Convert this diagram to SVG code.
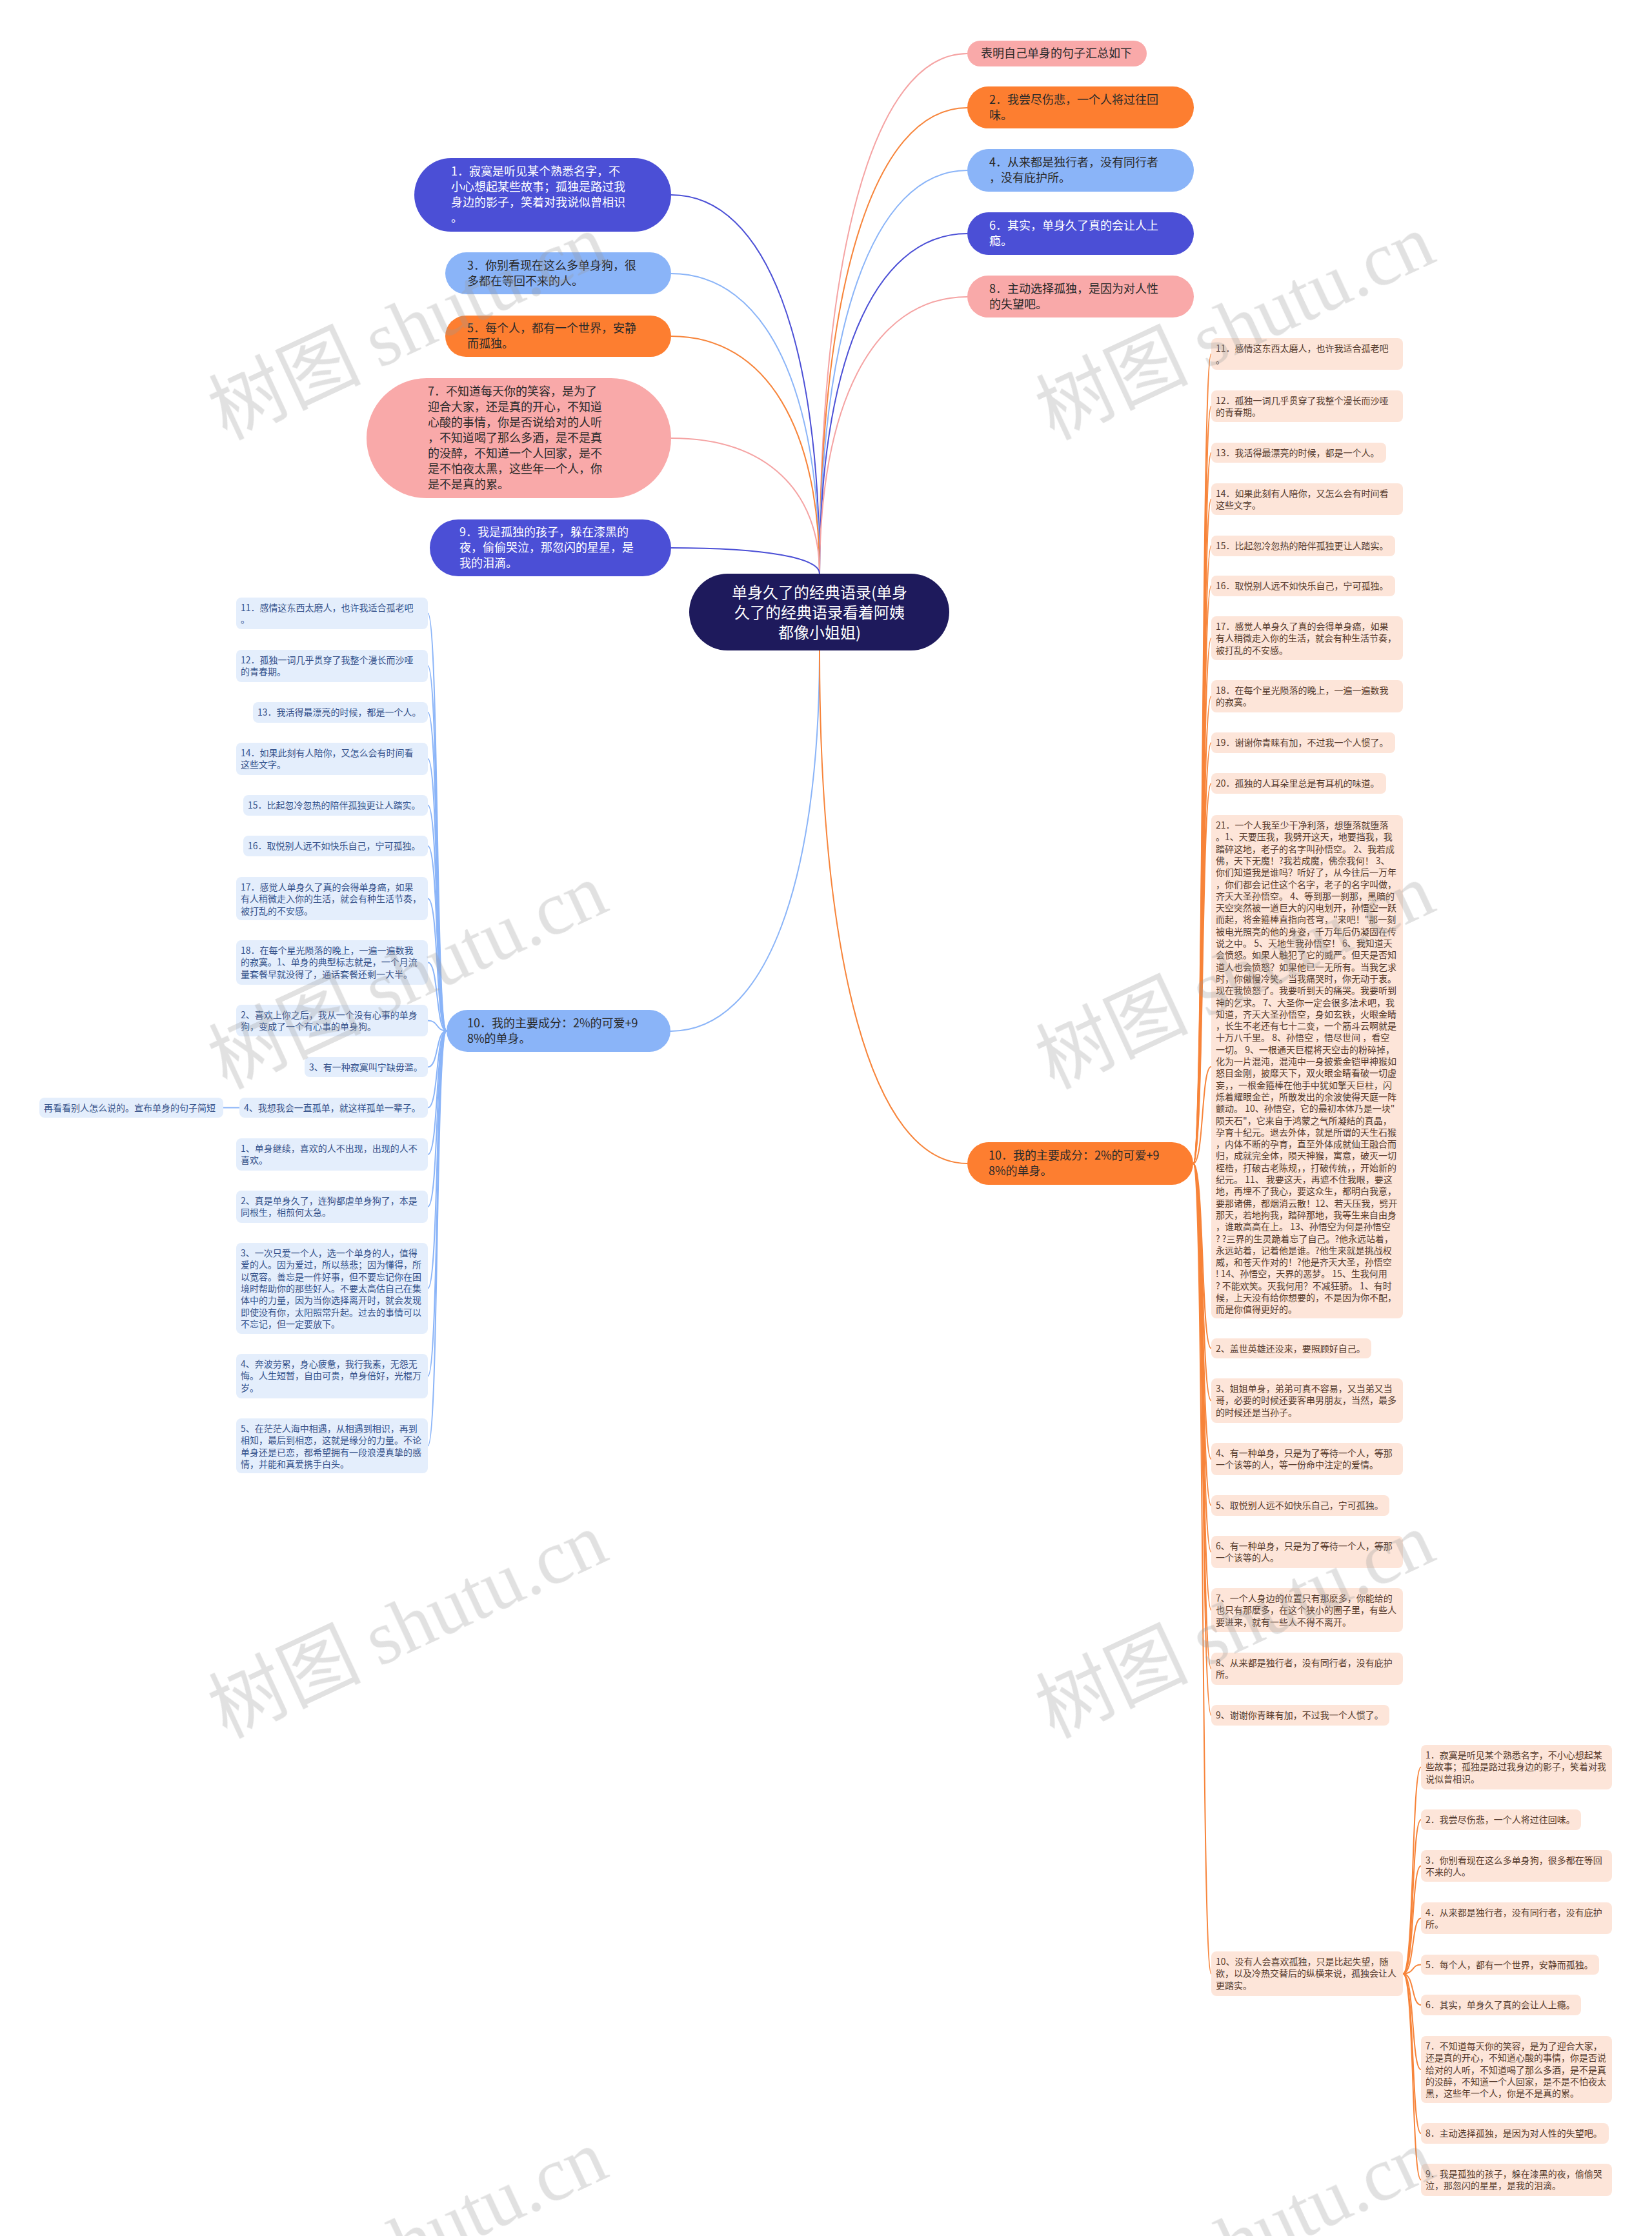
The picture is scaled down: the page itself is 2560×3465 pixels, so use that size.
<svg xmlns="http://www.w3.org/2000/svg" width="2560" height="3465" viewBox="0 0 2560 3465">
<defs>
<style>
text{font-family:"Noto Sans CJK SC","Noto Sans",sans-serif}
.s{font-size:14px}
.sb{fill:#34518a}
.sp{fill:#553a2c}
.rb{fill:#e4eefc}
.rp{fill:#fde5d9}
.m{font-size:18px;fill:#2a2a2a}
.mw{font-size:18px;fill:#ffffff}
.c{font-size:24px;fill:#ffffff;text-anchor:middle}
.e{fill:none;stroke-width:2}
.eo{stroke:#f7843a}
.eb{stroke:#8ab4f8}
.er{stroke:#4b4fd6}
.ep{stroke:#f5a3a3}
.wm{fill:#9a9a9a;opacity:0.3;font-size:118px}
.wms{font-family:"Liberation Serif",serif}
</style>
</defs>
<rect width="2560" height="3465" fill="#ffffff"/>

<g id="connectors">
<path class="e ep" d="M1270,889 C1270,405 1350,83 1499,83"/>
<path class="e eo" d="M1270,889 C1270,456 1350,167 1499,167"/>
<path class="e eb" d="M1270,889 C1270,514 1350,264 1499,264"/>
<path class="e er" d="M1270,889 C1270,573 1350,362 1499,362"/>
<path class="e ep" d="M1270,889 C1270,631 1350,460 1499,460"/>
<path class="e er" d="M1270,889 C1270,537 1190,302 1040,302"/>
<path class="e eb" d="M1270,889 C1270,610 1190,424 1040,424"/>
<path class="e eo" d="M1270,889 C1270,668 1190,521 1040,521"/>
<path class="e ep" d="M1270,889 C1270,763 1190,679 1040,679"/>
<path class="e er" d="M1270,889 C1270,865 1190,849 1040,849"/>
<path class="e eb" d="M1270,1008 C1270,1362 1189,1598 1039,1598"/>
<path class="e eo" d="M1270,1008 C1270,1485 1350,1803 1499,1803"/>
<path class="e eb" d="M692,1597.5 C675,1597.5 680,950.5 663,950.5"/>
<path class="e eb" d="M692,1597.5 C675,1597.5 680,1032 663,1032"/>
<path class="e eb" d="M692,1597.5 C675,1597.5 680,1104 663,1104"/>
<path class="e eb" d="M692,1597.5 C675,1597.5 680,1176 663,1176"/>
<path class="e eb" d="M692,1597.5 C675,1597.5 680,1248 663,1248"/>
<path class="e eb" d="M692,1597.5 C675,1597.5 680,1311 663,1311"/>
<path class="e eb" d="M692,1597.5 C675,1597.5 680,1392.5 663,1392.5"/>
<path class="e eb" d="M692,1597.5 C675,1597.5 680,1491.5 663,1491.5"/>
<path class="e eb" d="M692,1597.5 C675,1597.5 680,1581.5 663,1581.5"/>
<path class="e eb" d="M692,1597.5 C675,1597.5 680,1653.5 663,1653.5"/>
<path class="e eb" d="M692,1597.5 C675,1597.5 680,1716.5 663,1716.5"/>
<path class="e eb" d="M692,1597.5 C675,1597.5 680,1789 663,1789"/>
<path class="e eb" d="M692,1597.5 C675,1597.5 680,1870 663,1870"/>
<path class="e eb" d="M692,1597.5 C675,1597.5 680,1996.5 663,1996.5"/>
<path class="e eb" d="M692,1597.5 C675,1597.5 680,2132.5 663,2132.5"/>
<path class="e eb" d="M692,1597.5 C675,1597.5 680,2240.5 663,2240.5"/>
<path class="e eb" d="M371,1716.5 L346,1716.5"/>
<path class="e eo" d="M1849,1803 C1866,1803 1861,548.5 1877,548.5"/>
<path class="e eo" d="M1849,1803 C1866,1803 1861,629.5 1877,629.5"/>
<path class="e eo" d="M1849,1803 C1866,1803 1861,701.5 1877,701.5"/>
<path class="e eo" d="M1849,1803 C1866,1803 1861,773.5 1877,773.5"/>
<path class="e eo" d="M1849,1803 C1866,1803 1861,846 1877,846"/>
<path class="e eo" d="M1849,1803 C1866,1803 1861,908 1877,908"/>
<path class="e eo" d="M1849,1803 C1866,1803 1861,989 1877,989"/>
<path class="e eo" d="M1849,1803 C1866,1803 1861,1079 1877,1079"/>
<path class="e eo" d="M1849,1803 C1866,1803 1861,1151 1877,1151"/>
<path class="e eo" d="M1849,1803 C1866,1803 1861,1214 1877,1214"/>
<path class="e eo" d="M1849,1803 C1866,1803 1861,1653 1877,1653"/>
<path class="e eo" d="M1849,1803 C1866,1803 1861,2089.5 1877,2089.5"/>
<path class="e eo" d="M1849,1803 C1866,1803 1861,2170.5 1877,2170.5"/>
<path class="e eo" d="M1849,1803 C1866,1803 1861,2261 1877,2261"/>
<path class="e eo" d="M1849,1803 C1866,1803 1861,2333 1877,2333"/>
<path class="e eo" d="M1849,1803 C1866,1803 1861,2405 1877,2405"/>
<path class="e eo" d="M1849,1803 C1866,1803 1861,2495 1877,2495"/>
<path class="e eo" d="M1849,1803 C1866,1803 1861,2586 1877,2586"/>
<path class="e eo" d="M1849,1803 C1866,1803 1861,2658 1877,2658"/>
<path class="e eo" d="M1849,1803 C1866,1803 1861,3058.5 1877,3058.5"/>
<path class="e eo" d="M2174,3058.5 C2192,3058.5 2187,2738.5 2202,2738.5"/>
<path class="e eo" d="M2174,3058.5 C2192,3058.5 2187,2820 2202,2820"/>
<path class="e eo" d="M2174,3058.5 C2192,3058.5 2187,2891.5 2202,2891.5"/>
<path class="e eo" d="M2174,3058.5 C2192,3058.5 2187,2972.5 2202,2972.5"/>
<path class="e eo" d="M2174,3058.5 C2192,3058.5 2187,3044.5 2202,3044.5"/>
<path class="e eo" d="M2174,3058.5 C2192,3058.5 2187,3107 2202,3107"/>
<path class="e eo" d="M2174,3058.5 C2192,3058.5 2187,3207 2202,3207"/>
<path class="e eo" d="M2174,3058.5 C2192,3058.5 2187,3306 2202,3306"/>
<path class="e eo" d="M2174,3058.5 C2192,3058.5 2187,3378 2202,3378"/>
</g>

<g id="n-center">
<rect x="1068" y="889" width="403" height="119" rx="59.5" fill="#1e1a5c"/>
<text class="c"><tspan x="1270" y="927">单身久了的经典语录(单身</tspan><tspan x="1270" y="958">久了的经典语录看着阿姨</tspan><tspan x="1270" y="989">都像小姐姐)</tspan></text>
</g>

<g id="n-tr0"><rect x="1499" y="63" width="278" height="40" rx="20" fill="#f9a9a9"/><text class="m" x="1520" y="89">表明自己单身的句子汇总如下</text></g>
<g id="n-tr2"><rect x="1499" y="134" width="351" height="65" rx="32.5" fill="#fd7e30"/><text class="m"><tspan x="1533" y="160.5">2．我尝尽伤悲，一个人将过往回</tspan><tspan x="1533" y="184.5">味。</tspan></text></g>
<g id="n-tr4"><rect x="1499" y="231" width="351" height="66" rx="33" fill="#8ab4f8"/><text class="m"><tspan x="1533" y="258">4．从来都是独行者，没有同行者</tspan><tspan x="1533" y="282">，没有庇护所。</tspan></text></g>
<g id="n-tr6"><rect x="1499" y="329" width="351" height="66" rx="33" fill="#4b4fd6"/><text class="mw"><tspan x="1533" y="356">6．其实，单身久了真的会让人上</tspan><tspan x="1533" y="380">瘾。</tspan></text></g>
<g id="n-tr8"><rect x="1499" y="427" width="351" height="65" rx="32.5" fill="#f9a9a9"/><text class="m"><tspan x="1533" y="453.5">8．主动选择孤独，是因为对人性</tspan><tspan x="1533" y="477.5">的失望吧。</tspan></text></g>

<g id="n-tl1"><rect x="642" y="245" width="398" height="114" rx="57" fill="#4b4fd6"/><text class="mw"><tspan x="699" y="272">1．寂寞是听见某个熟悉名字，不</tspan><tspan x="699" y="296">小心想起某些故事；孤独是路过我</tspan><tspan x="699" y="320">身边的影子，笑着对我说似曾相识</tspan><tspan x="699" y="344">。</tspan></text></g>
<g id="n-tl3"><rect x="690" y="391" width="350" height="65" rx="32.5" fill="#8ab4f8"/><text class="m"><tspan x="724" y="418">3．你别看现在这么多单身狗，很</tspan><tspan x="724" y="442">多都在等回不来的人。</tspan></text></g>
<g id="n-tl5"><rect x="690" y="489" width="350" height="64" rx="32" fill="#fd7e30"/><text class="m"><tspan x="724" y="515">5．每个人，都有一个世界，安静</tspan><tspan x="724" y="539">而孤独。</tspan></text></g>
<g id="n-tl7"><rect x="568" y="586" width="472" height="186" rx="93" fill="#f9a9a9"/><text class="m"><tspan x="663" y="613">7．不知道每天你的笑容，是为了</tspan><tspan x="663" y="637">迎合大家，还是真的开心，不知道</tspan><tspan x="663" y="661">心酸的事情，你是否说给对的人听</tspan><tspan x="663" y="685">，不知道喝了那么多酒，是不是真</tspan><tspan x="663" y="709">的没醉，不知道一个人回家，是不</tspan><tspan x="663" y="733">是不怕夜太黑，这些年一个人，你</tspan><tspan x="663" y="757">是不是真的累。</tspan></text></g>
<g id="n-tl9"><rect x="666" y="805" width="374" height="88" rx="44" fill="#4b4fd6"/><text class="mw"><tspan x="712" y="831">9．我是孤独的孩子，躲在漆黑的</tspan><tspan x="712" y="855">夜，偷偷哭泣，那忽闪的星星，是</tspan><tspan x="712" y="879">我的泪滴。</tspan></text></g>

<g id="n-l10"><rect x="692" y="1565" width="347" height="65" rx="32.5" fill="#8ab4f8"/><text class="m"><tspan x="724" y="1591.5">10．我的主要成分：2%的可爱+9</tspan><tspan x="724" y="1615.5">8%的单身。</tspan></text></g>
<g id="n-r10"><rect x="1499" y="1770" width="350" height="66" rx="33" fill="#fd7e30"/><text class="m"><tspan x="1532" y="1797">10．我的主要成分：2%的可爱+9</tspan><tspan x="1532" y="1821">8%的单身。</tspan></text></g>

<g id="n-l-11"><rect class="rb" x="366" y="926" width="297" height="49" rx="8"/><text class="s sb"><tspan x="373" y="947">11．感情这东西太磨人，也许我适合孤老吧</tspan><tspan x="373" y="965.3">。</tspan></text></g>
<g id="n-l-12"><rect class="rb" x="366" y="1007" width="297" height="50" rx="8"/><text class="s sb"><tspan x="373" y="1028">12．孤独一词几乎贯穿了我整个漫长而沙哑</tspan><tspan x="373" y="1046.3">的青春期。</tspan></text></g>
<g id="n-l-13"><rect class="rb" x="392" y="1088" width="271" height="32" rx="8"/><text class="s sb" x="399" y="1109">13．我活得最漂亮的时候，都是一个人。</text></g>
<g id="n-l-14"><rect class="rb" x="366" y="1151" width="297" height="50" rx="8"/><text class="s sb"><tspan x="373" y="1172">14．如果此刻有人陪你，又怎么会有时间看</tspan><tspan x="373" y="1190.3">这些文字。</tspan></text></g>
<g id="n-l-15"><rect class="rb" x="377" y="1232" width="286" height="32" rx="8"/><text class="s sb" x="384" y="1253">15．比起忽冷忽热的陪伴孤独更让人踏实。</text></g>
<g id="n-l-16"><rect class="rb" x="377" y="1295" width="286" height="32" rx="8"/><text class="s sb" x="384" y="1316">16．取悦别人远不如快乐自己，宁可孤独。</text></g>
<g id="n-l-17"><rect class="rb" x="366" y="1359" width="297" height="67" rx="8"/><text class="s sb"><tspan x="373" y="1380">17．感觉人单身久了真的会得单身癌，如果</tspan><tspan x="373" y="1398.3">有人稍微走入你的生活，就会有种生活节奏，</tspan><tspan x="373" y="1416.6">被打乱的不安感。</tspan></text></g>
<g id="n-l-18"><rect class="rb" x="366" y="1457" width="297" height="69" rx="8"/><text class="s sb"><tspan x="373" y="1478">18．在每个星光陨落的晚上，一遍一遍数我</tspan><tspan x="373" y="1496.3">的寂寞。1、单身的典型标志就是，一个月流</tspan><tspan x="373" y="1514.6">量套餐早就没得了，通话套餐还剩一大半。</tspan></text></g>
<g id="n-l-a2"><rect class="rb" x="366" y="1557" width="297" height="49" rx="8"/><text class="s sb"><tspan x="373" y="1578">2、喜欢上你之后，我从一个没有心事的单身</tspan><tspan x="373" y="1596.3">狗，变成了一个有心事的单身狗。</tspan></text></g>
<g id="n-l-a3"><rect class="rb" x="472" y="1638" width="191" height="31" rx="8"/><text class="s sb" x="479" y="1658.5">3、有一种寂寞叫宁缺毋滥。</text></g>
<g id="n-l-a4"><rect class="rb" x="371" y="1701" width="292" height="31" rx="8"/><text class="s sb" x="378" y="1721.5">4、我想我会一直孤单，就这样孤单一辈子。</text></g>
<g id="n-l-a4sub"><rect class="rb" x="61" y="1701" width="285" height="31" rx="8"/><text class="s sb" x="68" y="1721.5">再看看别人怎么说的。宣布单身的句子简短</text></g>
<g id="n-l-b1"><rect class="rb" x="366" y="1764" width="297" height="50" rx="8"/><text class="s sb"><tspan x="373" y="1785">1、单身继续，喜欢的人不出现，出现的人不</tspan><tspan x="373" y="1803.3">喜欢。</tspan></text></g>
<g id="n-l-b2"><rect class="rb" x="366" y="1845" width="297" height="50" rx="8"/><text class="s sb"><tspan x="373" y="1866">2、真是单身久了，连狗都虐单身狗了，本是</tspan><tspan x="373" y="1884.3">同根生，相煎何太急。</tspan></text></g>
<g id="n-l-b3"><rect class="rb" x="366" y="1926" width="297" height="141" rx="8"/><text class="s sb"><tspan x="373" y="1947">3、一次只爱一个人，选一个单身的人，值得</tspan><tspan x="373" y="1965.3">爱的人。因为爱过，所以慈悲；因为懂得，所</tspan><tspan x="373" y="1983.6">以宽容。善忘是一件好事，但不要忘记你在困</tspan><tspan x="373" y="2001.9">境时帮助你的那些好人。不要太高估自己在集</tspan><tspan x="373" y="2020.2">体中的力量，因为当你选择离开时，就会发现</tspan><tspan x="373" y="2038.5">即使没有你，太阳照常升起。过去的事情可以</tspan><tspan x="373" y="2056.8">不忘记，但一定要放下。</tspan></text></g>
<g id="n-l-b4"><rect class="rb" x="366" y="2098" width="297" height="69" rx="8"/><text class="s sb"><tspan x="373" y="2119">4、奔波劳累，身心疲惫，我行我素，无怨无</tspan><tspan x="373" y="2137.3">悔。人生短暂，自由可贵，单身倍好，光棍万</tspan><tspan x="373" y="2155.6">岁。</tspan></text></g>
<g id="n-l-b5"><rect class="rb" x="366" y="2198" width="297" height="85" rx="8"/><text class="s sb"><tspan x="373" y="2219">5、在茫茫人海中相遇，从相遇到相识，再到</tspan><tspan x="373" y="2237.3">相知，最后到相恋，这就是缘分的力量。不论</tspan><tspan x="373" y="2255.6">单身还是已恋，都希望拥有一段浪漫真挚的感</tspan><tspan x="373" y="2273.9">情，并能和真爱携手白头。</tspan></text></g>

<g id="n-r-11"><rect class="rp" x="1877" y="524" width="297" height="49" rx="8"/><text class="s sp"><tspan x="1884" y="545">11．感情这东西太磨人，也许我适合孤老吧</tspan><tspan x="1884" y="563.3">。</tspan></text></g>
<g id="n-r-12"><rect class="rp" x="1877" y="605" width="297" height="49" rx="8"/><text class="s sp"><tspan x="1884" y="626">12．孤独一词几乎贯穿了我整个漫长而沙哑</tspan><tspan x="1884" y="644.3">的青春期。</tspan></text></g>
<g id="n-r-13"><rect class="rp" x="1877" y="686" width="271" height="31" rx="8"/><text class="s sp" x="1884" y="707">13．我活得最漂亮的时候，都是一个人。</text></g>
<g id="n-r-14"><rect class="rp" x="1877" y="749" width="297" height="49" rx="8"/><text class="s sp"><tspan x="1884" y="770">14．如果此刻有人陪你，又怎么会有时间看</tspan><tspan x="1884" y="788.3">这些文字。</tspan></text></g>
<g id="n-r-15"><rect class="rp" x="1877" y="830" width="285" height="32" rx="8"/><text class="s sp" x="1884" y="851">15．比起忽冷忽热的陪伴孤独更让人踏实。</text></g>
<g id="n-r-16"><rect class="rp" x="1877" y="892" width="285" height="32" rx="8"/><text class="s sp" x="1884" y="913">16．取悦别人远不如快乐自己，宁可孤独。</text></g>
<g id="n-r-17"><rect class="rp" x="1877" y="955" width="297" height="68" rx="8"/><text class="s sp"><tspan x="1884" y="976">17．感觉人单身久了真的会得单身癌，如果</tspan><tspan x="1884" y="994.3">有人稍微走入你的生活，就会有种生活节奏，</tspan><tspan x="1884" y="1012.6">被打乱的不安感。</tspan></text></g>
<g id="n-r-18"><rect class="rp" x="1877" y="1054" width="297" height="50" rx="8"/><text class="s sp"><tspan x="1884" y="1075">18．在每个星光陨落的晚上，一遍一遍数我</tspan><tspan x="1884" y="1093.3">的寂寞。</tspan></text></g>
<g id="n-r-19"><rect class="rp" x="1877" y="1135" width="285" height="32" rx="8"/><text class="s sp" x="1884" y="1156">19．谢谢你青睐有加，不过我一个人惯了。</text></g>
<g id="n-r-20"><rect class="rp" x="1877" y="1198" width="271" height="32" rx="8"/><text class="s sp" x="1884" y="1219">20．孤独的人耳朵里总是有耳机的味道。</text></g>
<g id="n-r-21"><rect class="rp" x="1877" y="1263" width="297" height="780" rx="8"/><text class="s sp">
<tspan x="1884" y="1284">21．一个人我至少干净利落，想堕落就堕落</tspan>
<tspan x="1884" y="1302.3">。1、天要压我，我劈开这天，地要挡我，我</tspan>
<tspan x="1884" y="1320.6">踏碎这地，老子的名字叫孙悟空。 2、我若成</tspan>
<tspan x="1884" y="1338.9">佛，天下无魔！?我若成魔，佛奈我何！ 3、</tspan>
<tspan x="1884" y="1357.2">你们知道我是谁吗？听好了，从今往后一万年</tspan>
<tspan x="1884" y="1375.5">，你们都会记住这个名字，老子的名字叫做，</tspan>
<tspan x="1884" y="1393.8">齐天大圣孙悟空。 4、等到那一刹那，黑暗的</tspan>
<tspan x="1884" y="1412.1">天空突然被一道巨大的闪电划开，孙悟空一跃</tspan>
<tspan x="1884" y="1430.4">而起，将金箍棒直指向苍穹，"来吧！"那一刻</tspan>
<tspan x="1884" y="1448.7">被电光照亮的他的身姿，千万年后仍凝固在传</tspan>
<tspan x="1884" y="1467">说之中。 5、天地生我孙悟空！ 6、我知道天</tspan>
<tspan x="1884" y="1485.3">会愤怒。如果人触犯了它的威严。但天是否知</tspan>
<tspan x="1884" y="1503.6">道人也会愤怒？如果他已一无所有。当我乞求</tspan>
<tspan x="1884" y="1521.9">时，你傲慢冷笑。当我痛哭时，你无动于衷。</tspan>
<tspan x="1884" y="1540.2">现在我愤怒了。我要听到天的痛哭。我要听到</tspan>
<tspan x="1884" y="1558.5">神的乞求。 7、大圣你一定会很多法术吧，我</tspan>
<tspan x="1884" y="1576.8">知道，齐天大圣孙悟空，身如玄铁，火眼金睛</tspan>
<tspan x="1884" y="1595.1">，长生不老还有七十二变，一个筋斗云啊就是</tspan>
<tspan x="1884" y="1613.4">十万八千里。 8、孙悟空 ，悟尽世间 ，看空</tspan>
<tspan x="1884" y="1631.7">一切。 9、一根通天巨棍将天空击的粉碎掉，</tspan>
<tspan x="1884" y="1650">化为一片混沌，混沌中一身披紫金铠甲神猴如</tspan>
<tspan x="1884" y="1668.3">怒目金刚，披靡天下，双火眼金睛看破一切虚</tspan>
<tspan x="1884" y="1686.6">妄，，一根金箍棒在他手中犹如擎天巨柱，闪</tspan>
<tspan x="1884" y="1704.9">烁着耀眼金芒，所散发出的余波使得天庭一阵</tspan>
<tspan x="1884" y="1723.2">颤动。 10、孙悟空，它的最初本体乃是一块"</tspan>
<tspan x="1884" y="1741.5">陨天石"，它来自于鸿蒙之气所凝结的真晶，</tspan>
<tspan x="1884" y="1759.8">孕育十纪元。退去外体，就是所谓的天生石猴</tspan>
<tspan x="1884" y="1778.1">，内体不断的孕育，直至外体成就仙王融合而</tspan>
<tspan x="1884" y="1796.4">归，成就完全体，陨天神猴，寓意，破灭一切</tspan>
<tspan x="1884" y="1814.7">桎梏，打破古老陈规，，打破传统，，开始新的</tspan>
<tspan x="1884" y="1833">纪元。 11、 我要这天，再遮不住我眼，要这</tspan>
<tspan x="1884" y="1851.3">地，再埋不了我心，要这众生，都明白我意，</tspan>
<tspan x="1884" y="1869.6">要那诸佛，都烟消云散！12、若天压我，劈开</tspan>
<tspan x="1884" y="1887.9">那天，若地拘我，踏碎那地，我等生来自由身</tspan>
<tspan x="1884" y="1906.2">，谁敢高高在上。 13、孙悟空为何是孙悟空</tspan>
<tspan x="1884" y="1924.5">? ?三界的生灵跪着忘了自己。?他永远站着，</tspan>
<tspan x="1884" y="1942.8">永远站着，记着他是谁。?他生来就是挑战权</tspan>
<tspan x="1884" y="1961.1">威，和苍天作对的！?他是齐天大圣，孙悟空</tspan>
<tspan x="1884" y="1979.4">! 14、孙悟空，天界的恶梦。 15、生我何用</tspan>
<tspan x="1884" y="1997.7">? 不能欢笑。灭我何用？不减狂骄。 1、有时</tspan>
<tspan x="1884" y="2016">候，上天没有给你想要的，不是因为你不配，</tspan>
<tspan x="1884" y="2034.3">而是你值得更好的。</tspan>
</text></g>
<g id="n-r-c2"><rect class="rp" x="1877" y="2074" width="248" height="31" rx="8"/><text class="s sp" x="1884" y="2095">2、盖世英雄还没来，要照顾好自己。</text></g>
<g id="n-r-c3"><rect class="rp" x="1877" y="2136" width="297" height="69" rx="8"/><text class="s sp"><tspan x="1884" y="2157">3、姐姐单身，弟弟可真不容易，又当弟又当</tspan><tspan x="1884" y="2175.3">哥，必要的时候还要客串男朋友，当然，最多</tspan><tspan x="1884" y="2193.6">的时候还是当孙子。</tspan></text></g>
<g id="n-r-c4"><rect class="rp" x="1877" y="2236" width="297" height="50" rx="8"/><text class="s sp"><tspan x="1884" y="2257">4、有一种单身，只是为了等待一个人，等那</tspan><tspan x="1884" y="2275.3">一个该等的人，等一份命中注定的爱情。</tspan></text></g>
<g id="n-r-c5"><rect class="rp" x="1877" y="2317" width="276" height="32" rx="8"/><text class="s sp" x="1884" y="2338">5、取悦别人远不如快乐自己，宁可孤独。</text></g>
<g id="n-r-c6"><rect class="rp" x="1877" y="2380" width="297" height="50" rx="8"/><text class="s sp"><tspan x="1884" y="2401">6、有一种单身，只是为了等待一个人，等那</tspan><tspan x="1884" y="2419.3">一个该等的人。</tspan></text></g>
<g id="n-r-c7"><rect class="rp" x="1877" y="2461" width="297" height="68" rx="8"/><text class="s sp"><tspan x="1884" y="2482">7、一个人身边的位置只有那麽多，你能给的</tspan><tspan x="1884" y="2500.3">也只有那麽多，在这个狭小的圈子里，有些人</tspan><tspan x="1884" y="2518.6">要进来，就有一些人不得不离开。</tspan></text></g>
<g id="n-r-c8"><rect class="rp" x="1877" y="2561" width="297" height="50" rx="8"/><text class="s sp"><tspan x="1884" y="2582">8、从来都是独行者，没有同行者，没有庇护</tspan><tspan x="1884" y="2600.3">所。</tspan></text></g>
<g id="n-r-c9"><rect class="rp" x="1877" y="2642" width="276" height="32" rx="8"/><text class="s sp" x="1884" y="2663">9、谢谢你青睐有加，不过我一个人惯了。</text></g>
<g id="n-r-c10"><rect class="rp" x="1877" y="3024" width="297" height="69" rx="8"/><text class="s sp"><tspan x="1884" y="3045">10、没有人会喜欢孤独，只是比起失望，随</tspan><tspan x="1884" y="3063.3">欲，以及冷热交替后的纵横来说，孤独会让人</tspan><tspan x="1884" y="3081.6">更踏实。</tspan></text></g>

<g id="n-f-1"><rect class="rp" x="2202" y="2704" width="296" height="69" rx="8"/><text class="s sp"><tspan x="2209" y="2725">1．寂寞是听见某个熟悉名字，不小心想起某</tspan><tspan x="2209" y="2743.3">些故事；孤独是路过我身边的影子，笑着对我</tspan><tspan x="2209" y="2761.6">说似曾相识。</tspan></text></g>
<g id="n-f-2"><rect class="rp" x="2202" y="2804" width="248" height="32" rx="8"/><text class="s sp" x="2209" y="2825">2．我尝尽伤悲，一个人将过往回味。</text></g>
<g id="n-f-3"><rect class="rp" x="2202" y="2867" width="296" height="49" rx="8"/><text class="s sp"><tspan x="2209" y="2888">3．你别看现在这么多单身狗，很多都在等回</tspan><tspan x="2209" y="2906.3">不来的人。</tspan></text></g>
<g id="n-f-4"><rect class="rp" x="2202" y="2948" width="296" height="49" rx="8"/><text class="s sp"><tspan x="2209" y="2969">4．从来都是独行者，没有同行者，没有庇护</tspan><tspan x="2209" y="2987.3">所。</tspan></text></g>
<g id="n-f-5"><rect class="rp" x="2202" y="3029" width="276" height="31" rx="8"/><text class="s sp" x="2209" y="3050">5．每个人，都有一个世界，安静而孤独。</text></g>
<g id="n-f-6"><rect class="rp" x="2202" y="3091" width="248" height="32" rx="8"/><text class="s sp" x="2209" y="3112">6．其实，单身久了真的会让人上瘾。</text></g>
<g id="n-f-7"><rect class="rp" x="2202" y="3155" width="296" height="104" rx="8"/><text class="s sp"><tspan x="2209" y="3176">7．不知道每天你的笑容，是为了迎合大家，</tspan><tspan x="2209" y="3194.3">还是真的开心，不知道心酸的事情，你是否说</tspan><tspan x="2209" y="3212.6">给对的人听，不知道喝了那么多酒，是不是真</tspan><tspan x="2209" y="3230.9">的没醉，不知道一个人回家，是不是不怕夜太</tspan><tspan x="2209" y="3249.2">黑，这些年一个人，你是不是真的累。</tspan></text></g>
<g id="n-f-8"><rect class="rp" x="2202" y="3290" width="291" height="32" rx="8"/><text class="s sp" x="2209" y="3311">8．主动选择孤独，是因为对人性的失望吧。</text></g>
<g id="n-f-9"><rect class="rp" x="2202" y="3353" width="296" height="50" rx="8"/><text class="s sp"><tspan x="2209" y="3374">9．我是孤独的孩子，躲在漆黑的夜，偷偷哭</tspan><tspan x="2209" y="3392.3">泣，那忽闪的星星，是我的泪滴。</tspan></text></g>

<g id="watermark" class="wm">
<text transform="translate(350,682) rotate(-25)">树图 <tspan class="wms">shutu.cn</tspan></text>
<text transform="translate(1632,682) rotate(-25)">树图 <tspan class="wms">shutu.cn</tspan></text>
<text transform="translate(350,1688) rotate(-25)">树图 <tspan class="wms">shutu.cn</tspan></text>
<text transform="translate(1632,1688) rotate(-25)">树图 <tspan class="wms">shutu.cn</tspan></text>
<text transform="translate(350,2694) rotate(-25)">树图 <tspan class="wms">shutu.cn</tspan></text>
<text transform="translate(1632,2694) rotate(-25)">树图 <tspan class="wms">shutu.cn</tspan></text>
<text transform="translate(350,3650) rotate(-25)">树图 <tspan class="wms">shutu.cn</tspan></text>
<text transform="translate(1632,3650) rotate(-25)">树图 <tspan class="wms">shutu.cn</tspan></text>
</g>
</svg>
